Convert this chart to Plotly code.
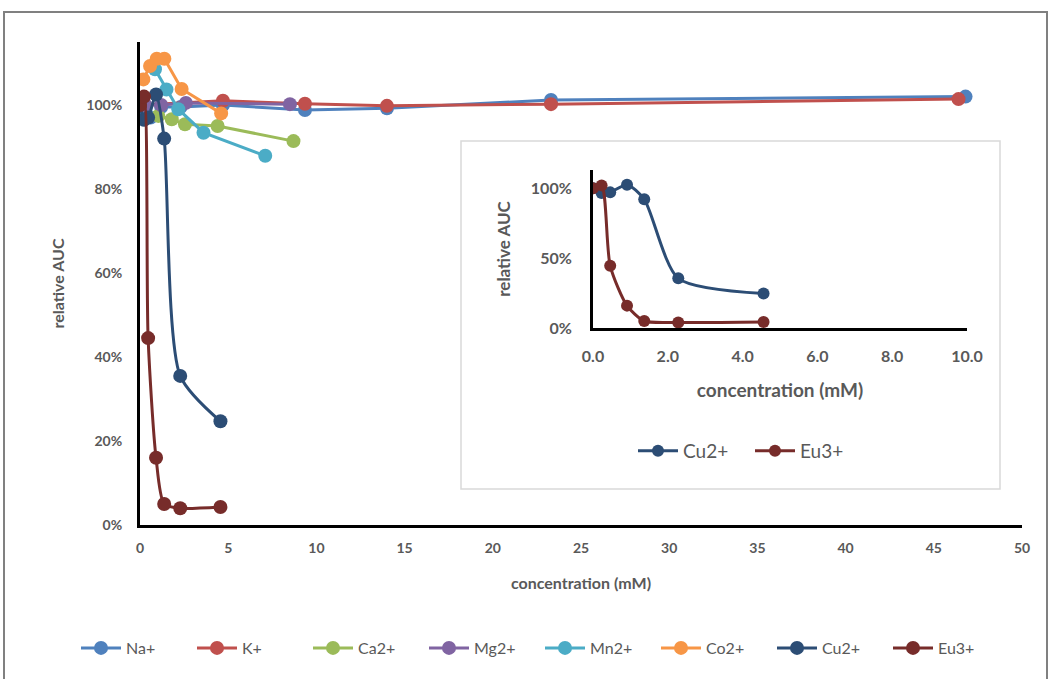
import plotly.graph_objects as go

# ---- data ----
na_x = [0.2, 0.6, 1.2, 2.3, 4.7, 9.35, 14.0, 23.3, 46.8]
na_y = [0.975, 0.97, 0.995, 0.995, 1.00, 0.988, 0.992, 1.012, 1.02]
k_x = [0.1, 4.7, 9.35, 14.0, 23.3, 46.4]
k_y = [1.00, 1.01, 1.003, 0.998, 1.002, 1.014]
ca_x = [1.04, 1.8, 2.55, 4.4, 8.7]
ca_y = [0.974, 0.966, 0.954, 0.95, 0.914]
mg_x = [0.3, 1.2, 2.6, 8.5]
mg_y = [1.00, 1.00, 1.005, 1.002]
mn_x = [0.85, 1.5, 2.17, 3.6, 7.1]
mn_y = [1.085, 1.037, 0.99, 0.934, 0.879]
co_x = [0.19, 0.57, 0.95, 1.38, 2.36, 4.6]
co_y = [1.061, 1.093, 1.11, 1.11, 1.038, 0.98]
cu_x = [0.0, 0.23, 0.46, 0.91, 1.37, 2.28, 4.56]
cu_y = [1.00, 0.965, 0.97, 1.025, 0.92, 0.355, 0.247]
eu_x = [0.0, 0.23, 0.46, 0.91, 1.37, 2.28, 4.56]
eu_y = [1.00, 1.02, 0.445, 0.16, 0.05, 0.04, 0.043]

main_xticks = [0, 5, 10, 15, 20, 25, 30, 35, 40, 45, 50]
main_yticks = [0, 0.2, 0.4, 0.6, 0.8, 1.0]
inset_xticks = [0, 2, 4, 6, 8, 10]
inset_yticks = [0, 0.5, 1.0]

names = ["Na+", "K+", "Ca2+", "Mg2+", "Mn2+", "Co2+", "Cu2+", "Eu3+"]
colors = ["#4F81BD", "#C0504D", "#9BBB59", "#8064A2", "#4BACC6", "#F79646", "#2C4D75", "#772C2A"]
series = [(na_x, na_y), (k_x, k_y), (ca_x, ca_y), (mg_x, mg_y), (mn_x, mn_y),
          (co_x, co_y), (cu_x, cu_y), (eu_x, eu_y)]
smooth = [False, False, False, False, False, False, True, True]

W, H = 1048, 679


def px(x):
    return x / W


def py(y):
    return 1 - y / H


FONT = "Lato"
GREY = "#595959"

fig = go.Figure()

for (xs, ys), nm, c, sm in zip(series, names, colors, smooth):
    fig.add_trace(go.Scatter(
        x=xs, y=ys, name=nm, mode="lines+markers",
        line=dict(color=c, width=3, shape="spline" if sm else "linear", smoothing=0.7),
        marker=dict(color=c, size=14),
        xaxis="x", yaxis="y", legend="legend",
    ))

for (xs, ys), nm, c in [((cu_x, cu_y), "Cu2+", colors[6]), ((eu_x, eu_y), "Eu3+", colors[7])]:
    fig.add_trace(go.Scatter(
        x=xs, y=ys, name=nm, mode="lines+markers",
        line=dict(color=c, width=3, shape="spline", smoothing=0.7),
        marker=dict(color=c, size=12),
        xaxis="x2", yaxis="y2", legend="legend2",
    ))

tick_main = dict(family=FONT, size=14, color=GREY, weight="bold")
title_main = dict(family=FONT, size=16, color=GREY, weight="bold")
tick_in = dict(family=FONT, size=16, color=GREY, weight="bold")
xtitle_in = dict(family=FONT, size=19, color=GREY, weight="bold")
ytitle_in = dict(family=FONT, size=17, color=GREY, weight="bold")

fig.update_layout(
    width=W, height=H,
    margin=dict(l=0, r=0, t=0, b=0, autoexpand=False),
    paper_bgcolor="white", plot_bgcolor="rgba(0,0,0,0)",
    font=dict(family=FONT, color=GREY),
    xaxis=dict(domain=[px(140), px(1022)], anchor="y", range=[0, 50], tickvals=main_xticks,
               ticktext=[str(v) for v in main_xticks],
               showgrid=False, zeroline=False, showline=True, linecolor="black",
               linewidth=3, ticks="", tickfont=tick_main, ticklabelstandoff=8,
               title=dict(text="concentration (mM)", font=title_main, standoff=24)),
    yaxis=dict(domain=[py(525), py(42)], anchor="x", range=[0, 1.15], tickvals=main_yticks,
               ticktext=[f"{int(round(v*100))}%" for v in main_yticks],
               showgrid=False, zeroline=False, showline=True, linecolor="black",
               linewidth=3, ticks="", tickfont=tick_main, ticklabelstandoff=12,
               title=dict(text="relative AUC", font=title_main, standoff=18)),
    xaxis2=dict(domain=[px(593), px(967)], anchor="y2", range=[0, 10],
                tickvals=inset_xticks, ticktext=[f"{v:.1f}" for v in inset_xticks],
                showgrid=False, zeroline=False, showline=True, linecolor="black",
                linewidth=3, ticks="", tickfont=tick_in, ticklabelstandoff=12,
                title=dict(text="concentration (mM)", font=xtitle_in, standoff=20)),
    yaxis2=dict(domain=[py(328), py(170)], anchor="x2", range=[0, 1.13],
                tickvals=inset_yticks,
                ticktext=[f"{int(round(v*100))}%" for v in inset_yticks],
                showgrid=False, zeroline=False, showline=True, linecolor="black",
                linewidth=3, ticks="", tickfont=tick_in, ticklabelstandoff=15,
                title=dict(text="relative AUC", font=ytitle_in, standoff=16)),
    legend=dict(orientation="h", x=px(76), xanchor="left",
                y=py(648), yanchor="middle",
                font=dict(family=FONT, size=16, color=GREY), bgcolor="rgba(0,0,0,0)",
                itemwidth=40, entrywidth=61, entrywidthmode="pixels"),
    legend2=dict(orientation="h", x=px(750), xanchor="center",
                 y=py(451), yanchor="middle",
                 font=dict(family=FONT, size=19, color=GREY), bgcolor="rgba(0,0,0,0)",
                 itemwidth=40, entrywidth=62, entrywidthmode="pixels"),
    shapes=[
        dict(type="rect", xref="paper", yref="paper",
             x0=px(4), x1=px(1047), y0=py(690), y1=py(12),
             line=dict(color="#808080", width=2), fillcolor="rgba(0,0,0,0)", layer="below"),
        dict(type="rect", xref="paper", yref="paper",
             x0=px(461), x1=px(1000), y0=py(489), y1=py(141),
             line=dict(color="#D9D9D9", width=1.5), fillcolor="white", layer="below"),
    ],
)

fig.write_html("out.html")
